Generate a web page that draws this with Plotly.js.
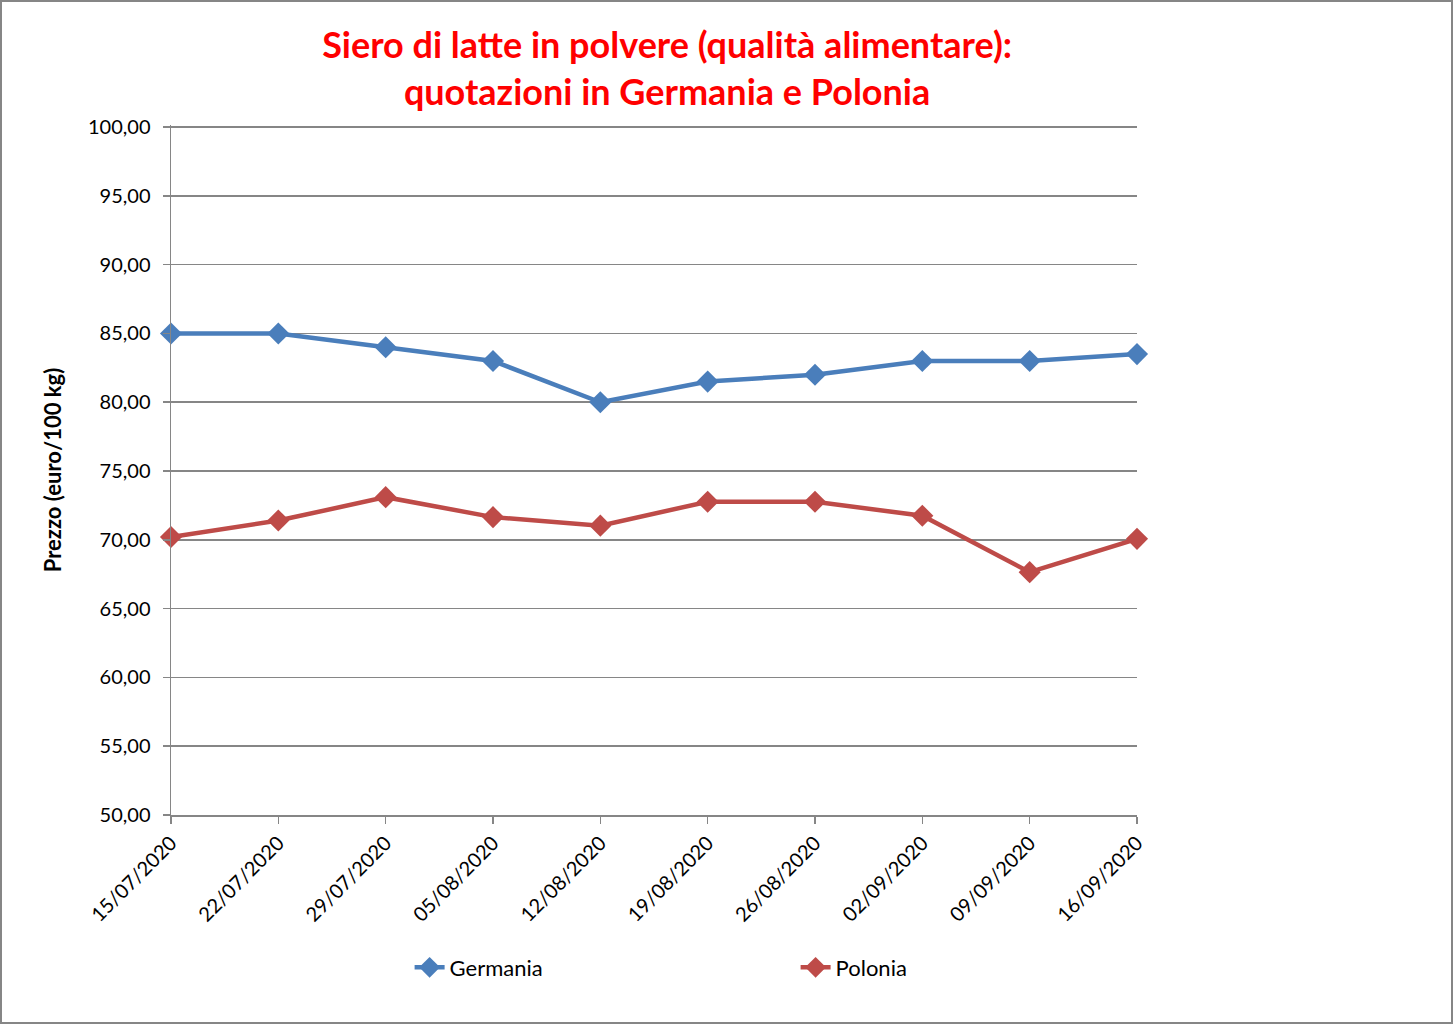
<!DOCTYPE html>
<html><head><meta charset="utf-8">
<script src="https://cdn.plot.ly/plotly-3.0.1.min.js"></script>
<style>
html,body{margin:0;padding:0;background:#fff;}
#wrap{width:1449px;height:1020px;border:2px solid #868686;}
#chart{width:1449px;height:1020px;}
</style></head>
<body><div id="wrap"><div id="chart"></div></div>
<script>
const dates = ["15/07/2020","22/07/2020","29/07/2020","05/08/2020","12/08/2020","19/08/2020","26/08/2020","02/09/2020","09/09/2020","16/09/2020"];
const germania = [85.0, 85.0, 84.0, 83.0, 80.0, 81.5, 82.0, 83.0, 83.0, 83.5];
const polonia = [70.2, 71.4, 73.1, 71.65, 71.03, 72.77, 72.77, 71.75, 67.65, 70.07];
const yTicks = [50,55,60,65,70,75,80,85,90,95,100];
const yTickText = yTicks.map(v => v.toFixed(2).replace('.', ','));

const font = "Lato, 'Open Sans', 'DejaVu Sans', sans-serif";
const traces = [
  {x: dates, y: germania, name: "Germania", type: "scatter", mode: "lines+markers",
   line: {color: "#4A7EBB", width: 4.5}, marker: {symbol: "diamond", size: 17, color: "#4A7EBB"}, cliponaxis: false},
  {x: dates, y: polonia, name: "Polonia", type: "scatter", mode: "lines+markers",
   line: {color: "#BE4B48", width: 4.5}, marker: {symbol: "diamond", size: 17, color: "#BE4B48"}, cliponaxis: false}
];
const layout = {
  width: 1449, height: 1020,
  margin: {l: 169, r: 314, t: 123, b: 207},
  paper_bgcolor: "#fff", plot_bgcolor: "#fff",
  font: {family: font, size: 20, color: "#000"},
  title: {text: "<b>Siero di latte in polvere (qualità alimentare):<br>quotazioni in Germania e Polonia</b>",
          font: {family: font, size: 36, color: "#FF0000"}, x: 0.459, xanchor: "center", xref: "container", y: 0.945, yanchor: "middle", yref: "container"},
  xaxis: {type: "category", range: [0, 9], showgrid: false, showline: true, linecolor: "#868686", linewidth: 1.5,
          ticks: "outside", ticklen: 7, tickcolor: "#868686", tickwidth: 1.5, tickangle: -45,
          tickfont: {family: font, size: 20}, zeroline: false},
  yaxis: {range: [50, 100.15], tickvals: yTicks, ticktext: yTickText, showgrid: true, gridcolor: "#868686", gridwidth: 1.5,
          showline: true, linecolor: "#868686", linewidth: 1.5, ticks: "outside", ticklen: 7, tickcolor: "#868686", tickwidth: 1.5,
          ticklabelstandoff: 8,
          tickfont: {family: font, size: 20}, zeroline: false,
          title: {text: "<b>Prezzo (euro/100 kg)</b>", font: {family: font, size: 22}, standoff: 20}},
  showlegend: true,
  legend: {orientation: "h", x: 0.247, xanchor: "left", y: -0.221, yanchor: "middle", entrywidth: 341, entrywidthmode: "pixels",
           font: {family: font, size: 22}, bgcolor: "rgba(0,0,0,0)"}
};
Plotly.newPlot("chart", traces, layout, {displayModeBar: false, staticPlot: true});
</script></body></html>
